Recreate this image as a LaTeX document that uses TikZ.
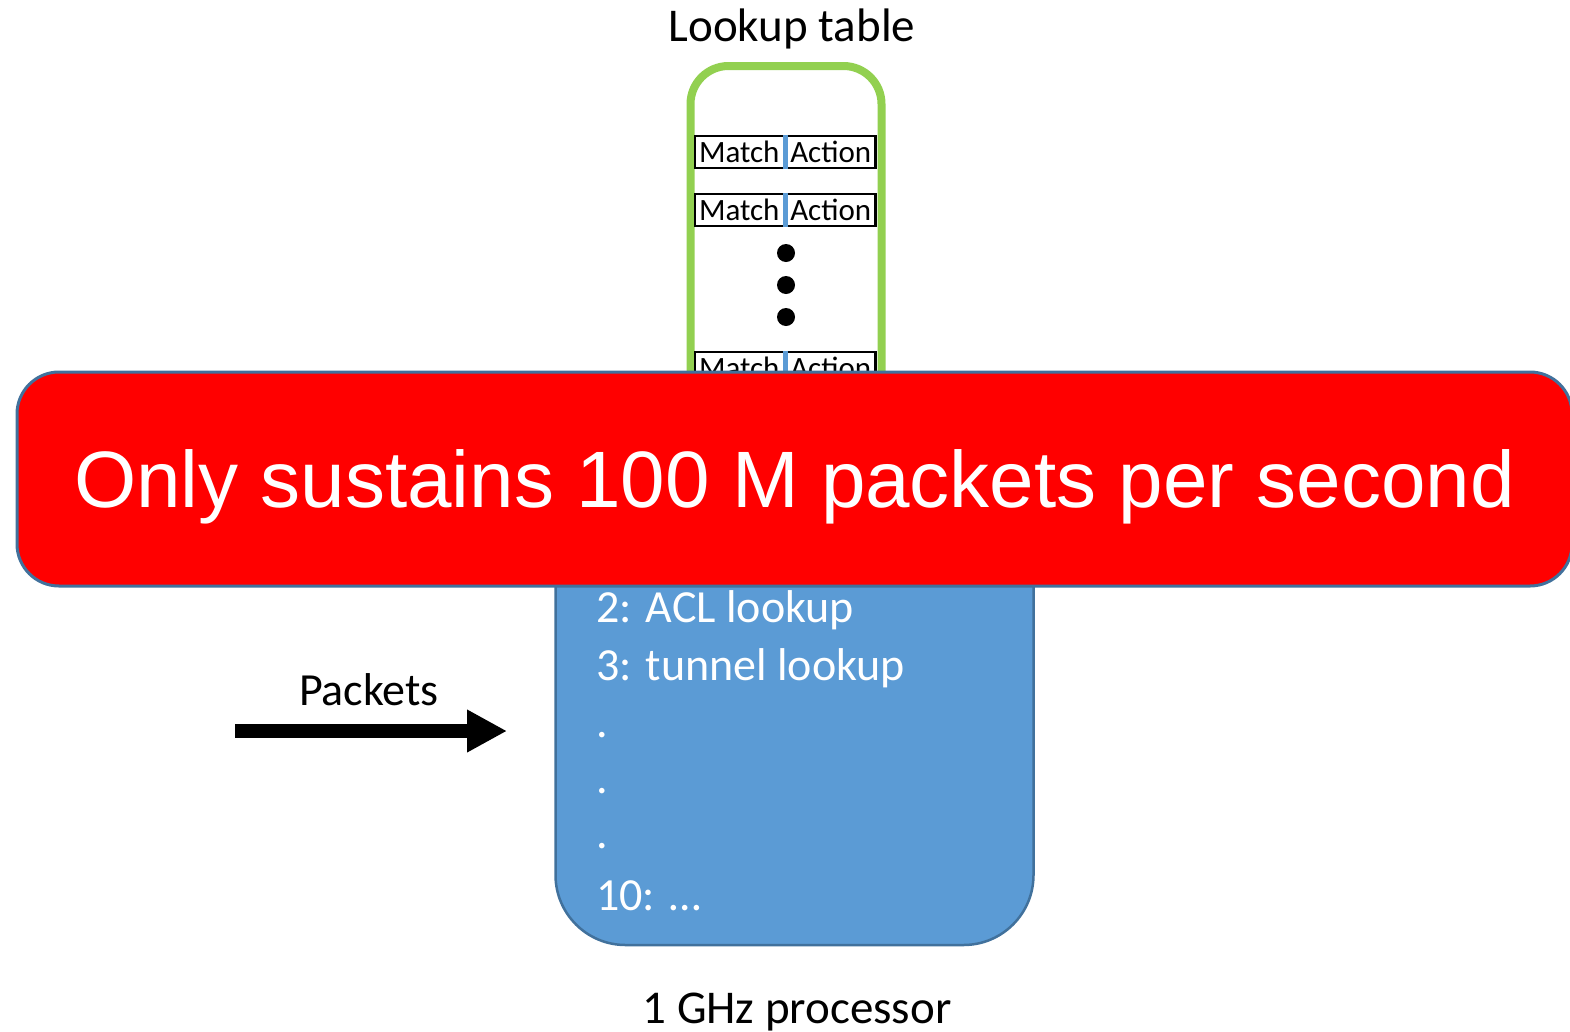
\documentclass[tikz,border=0pt]{standalone}
\usepackage{fontspec}
\setmainfont{Carlito}
\newfontfamily\bannerfont{Liberation Sans}
\usepackage{xcolor}
\usetikzlibrary{arrows.meta, positioning, calc}
\definecolor{tablegreen}{HTML}{92D050}
\definecolor{procblue}{HTML}{5B9BD5}
\definecolor{edgeblue}{HTML}{41719C}
\definecolor{alertred}{HTML}{FF0000}
\tikzset{
  tablebox/.style={draw=tablegreen, line width=8pt, rounded corners=38pt, inner sep=0pt},
  matchcell/.style={draw, line width=2.5pt, minimum width=89pt, minimum height=32pt, inner sep=0pt, font=\fontsize{31}{36}\selectfont},
  divider/.style={procblue, line width=5pt},
  tabledot/.style={circle, fill=black, minimum size=18pt, inner sep=0pt},
  procbox/.style={draw=edgeblue, line width=2.5pt, fill=procblue, rounded corners=70pt, inner sep=0pt},
  proctext/.style={text=white, anchor=base west, inner sep=0pt, font=\fontsize{46}{55}\selectfont},
  banner/.style={draw=edgeblue, line width=3pt, fill=alertred, rounded corners=42pt, inner sep=0pt},
  caption/.style={anchor=base, inner sep=0pt, font=\fontsize{47}{56}\selectfont},
  pktarrow/.style={line width=14pt, -{Triangle[length=40pt, width=40pt]}}
}

\begin{document}
\begin{tikzpicture}[x=1pt, y=-1pt, >=Stealth]
  \useasboundingbox (0,0) rectangle (1570,1031);

  % lookup table
  \node[caption] (tabletitle) at (792,41) {Lookup table};
  \node[tablebox, minimum width=191pt, minimum height=470pt] (table) at (786,301) {};
  \foreach \y [count=\i] in {152,210,368} {
    \node[matchcell, anchor=east] (match\i) at (785,\y) {Match};
    \node[matchcell, anchor=west] (action\i) at (785,\y) {Action};
    \draw[divider] (match\i.north east) -- (match\i.south east);
  }
  \foreach \y [count=\i] in {253,285,317}
    \node[tabledot] (dot\i) at (786,\y) {};

  % processor
  \node[procbox, minimum width=478pt, minimum height=525pt] (proc) at (794.5,682.5) {};
  \foreach \y/\txt [count=\i] in {622/{2: ACL lookup}, 680/{3: tunnel lookup}, 737/{.}, 793/{.}, 848/{.}, 910/{10: …}}
    \node[proctext] (step\i) at (596,\y) {\txt};
  \node[caption] (proclabel) at (797,1023) {1 GHz processor};

  % incoming packets
  \coordinate (pktstart) at (235,731);
  \coordinate (pktend) at (507,731);
  \draw[pktarrow] (pktstart) -- (pktend);
  \node[caption, font=\fontsize{46}{55}\selectfont] (pktlabel) at (369,705) {Packets};

  % warning banner
  \node[banner, minimum width=1555pt, minimum height=214pt] (warn) at (794.5,479) {};
  \node[text=white, anchor=base, inner sep=0pt, font=\bannerfont\fontsize{80}{96}\selectfont] (warntext) at (794.5,507) {Only sustains 100 M packets per second};
\end{tikzpicture}
\end{document}
